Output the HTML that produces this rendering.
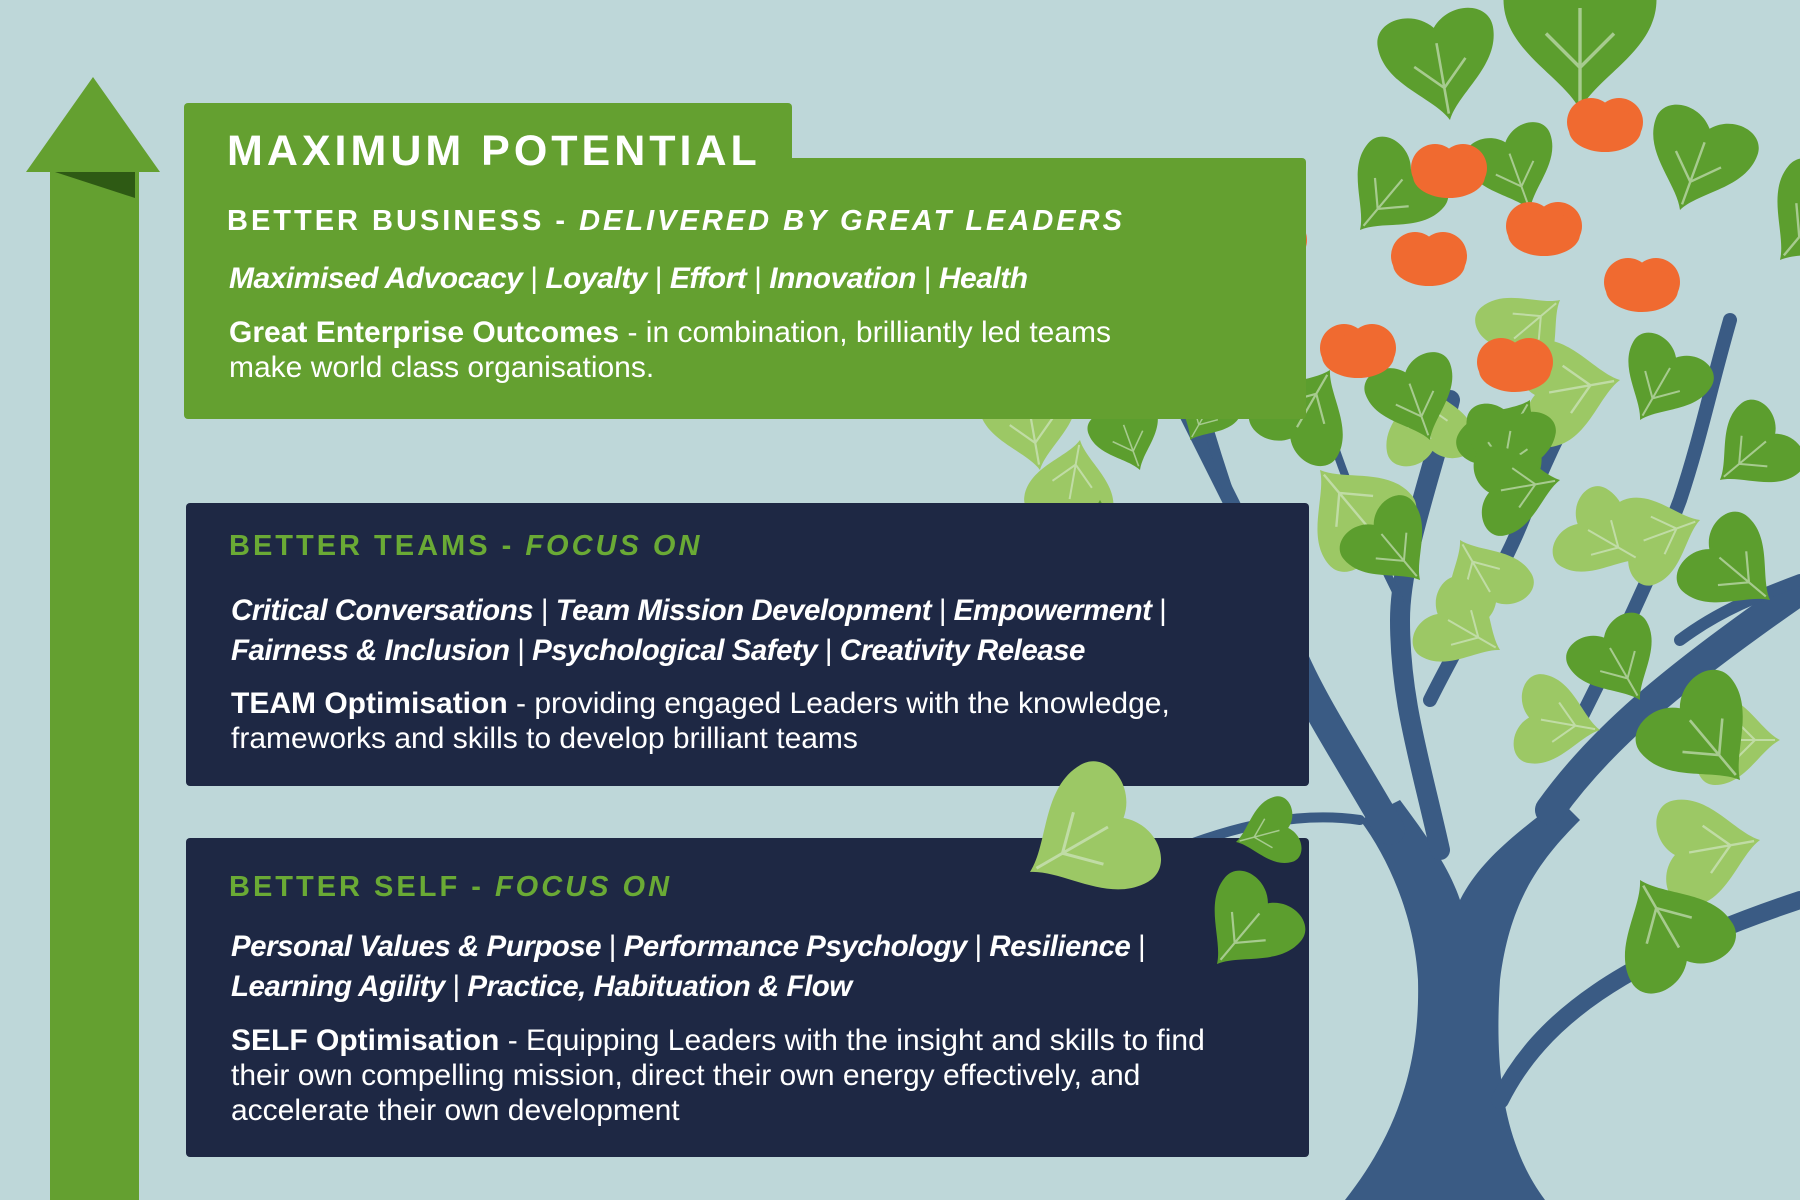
<!DOCTYPE html>
<html><head><meta charset="utf-8"><style>
body{margin:0;width:1800px;height:1200px;overflow:hidden;background:#bed7d9;font-family:"Liberation Sans",sans-serif;position:relative}
.abs{position:absolute}
.g{background:#64a030}
.n{background:#1e2844;border-radius:4px}
.t{position:absolute;color:#fff;white-space:nowrap}
.h{font-weight:bold;letter-spacing:3px}
.i{font-weight:bold;font-style:italic;letter-spacing:-0.5px}
.b{font-size:30px;line-height:35px}
.p{font-weight:normal;font-style:normal}
</style></head><body>
<svg class="abs" style="left:0;top:0" width="1800" height="1200" viewBox="0 0 1800 1200">
<defs>
<g id="lf"><path d="M0,0 C-10,-20 -45,-35 -45,-65 C-45,-85 -15,-90 0,-72 C15,-90 45,-85 45,-65 C45,-35 10,-20 0,0Z"/><path d="M0,-5 L0,-60 M0,-25 L-20,-45 M0,-25 L20,-45" stroke="#d8ead0" stroke-width="2" fill="none" opacity=".6"/></g>
<g id="ap"><circle cx="-14" cy="0" r="24"/><circle cx="14" cy="0" r="24"/><ellipse cx="0" cy="8" rx="36" ry="22"/></g>
</defs>
<rect x="50" y="170" width="89" height="1030" fill="#64a030"/>
<polygon points="93,77 26,172 160,172" fill="#64a030"/>
<polygon points="55,172 135,172 135,198" fill="#2e5a14"/>
<path d="M1345,1200 C1400,1130 1420,1060 1418,980 C1415,920 1390,860 1360,820 L1400,800 C1430,840 1450,870 1460,900 C1480,860 1520,830 1560,800 L1580,820 C1540,860 1510,900 1500,980 C1495,1060 1500,1140 1545,1200 Z" fill="#3a5b84"/>
<g fill="none" stroke="#3a5b84" stroke-linecap="round">
<path d="M1390,830 C1350,760 1310,700 1290,650 C1270,600 1250,560 1240,520" stroke-width="30"/>
<path d="M1240,520 C1220,480 1200,440 1180,400" stroke-width="16"/>
<path d="M1550,810 C1600,740 1670,680 1800,590" stroke-width="30"/>
<path d="M1440,850 C1420,760 1400,700 1400,620 C1400,560 1430,480 1450,400" stroke-width="20"/>
<path d="M1430,700 C1470,620 1510,560 1530,500 C1550,450 1570,410 1590,380" stroke-width="14"/>
<path d="M1580,720 C1620,640 1650,580 1680,500 C1700,440 1710,390 1730,320" stroke-width="14"/>
<path d="M1360,820 C1290,810 1220,830 1150,860" stroke-width="10"/>
<path d="M1290,650 C1240,620 1190,600 1140,590" stroke-width="8"/>
<path d="M1400,600 C1370,540 1340,470 1320,400" stroke-width="8"/>
<path d="M1680,640 C1720,610 1760,595 1800,580" stroke-width="12"/>
<path d="M1500,1100 C1540,1020 1620,960 1800,900" stroke-width="18"/>
<path d="M1290,650 C1250,560 1220,470 1200,400" stroke-width="10"/>
</g>
<g fill="#9cc865">
<use href="#lf" transform="translate(1260,320) rotate(-60) scale(1.2)"/>
<use href="#lf" transform="translate(1320,470) rotate(140) scale(1.2)"/>
<use href="#lf" transform="translate(1040,470) rotate(-10) scale(1.1)"/>
<use href="#lf" transform="translate(1460,540) rotate(150)"/>
<use href="#lf" transform="translate(1560,300) rotate(-130)"/>
<use href="#lf" transform="translate(1620,380) rotate(-100) scale(1.2)"/>
<use href="#lf" transform="translate(1500,650) rotate(-60)"/>
<use href="#lf" transform="translate(1700,520) rotate(-110)"/>
<use href="#lf" transform="translate(1600,730) rotate(-80)"/>
<use href="#lf" transform="translate(1760,840) rotate(-100) scale(1.2)"/>
<use href="#lf" transform="translate(1420,380) rotate(170)"/>
<use href="#lf" transform="translate(1780,740) rotate(-90)"/>
<use href="#lf" transform="translate(1640,560) rotate(-60)"/>
<use href="#lf" transform="translate(1080,440) rotate(-170) scale(1)"/>
</g>
<g fill="#5c9e2e">
<use href="#lf" transform="translate(1360,230) rotate(40) scale(1.1)"/>
<use href="#lf" transform="translate(1450,120) rotate(-10) scale(1.3)"/>
<use href="#lf" transform="translate(1580,110) rotate(0) scale(1.7)"/>
<use href="#lf" transform="translate(1530,210) rotate(-20)"/>
<use href="#lf" transform="translate(1680,210) rotate(20) scale(1.2)"/>
<use href="#lf" transform="translate(1780,260) rotate(40) scale(1.2)"/>
<use href="#lf" transform="translate(1330,370) rotate(-150) scale(1.1)"/>
<use href="#lf" transform="translate(1430,440) rotate(-20)"/>
<use href="#lf" transform="translate(1530,400) rotate(-150)"/>
<use href="#lf" transform="translate(1140,470) rotate(-20) scale(0.8)"/>
<use href="#lf" transform="translate(1190,440) rotate(30) scale(0.7)"/>
<use href="#lf" transform="translate(1420,580) rotate(-40)"/>
<use href="#lf" transform="translate(1500,490) rotate(10)"/>
<use href="#lf" transform="translate(1640,420) rotate(30)"/>
<use href="#lf" transform="translate(1720,480) rotate(50)"/>
<use href="#lf" transform="translate(1770,600) rotate(-50) scale(1.1)"/>
<use href="#lf" transform="translate(1640,700) rotate(-30)"/>
<use href="#lf" transform="translate(1740,780) rotate(-40) scale(1.3)"/>
<use href="#lf" transform="translate(1640,880) rotate(150) scale(1.3)"/>
<use href="#lf" transform="translate(1100,500) rotate(180) scale(1.2)"/>
<use href="#lf" transform="translate(1560,480) rotate(-100)"/>
</g>
<g fill="#f06a30">
<use href="#ap" transform="translate(1269,240)"/><use href="#ap" transform="translate(1449,168)"/><use href="#ap" transform="translate(1605,122)"/>
<use href="#ap" transform="translate(1429,256)"/><use href="#ap" transform="translate(1544,226)"/><use href="#ap" transform="translate(1642,282)"/>
<use href="#ap" transform="translate(1251,356)"/><use href="#ap" transform="translate(1358,348)"/><use href="#ap" transform="translate(1515,362)"/>
</g>
</svg>
<div class="abs g" style="left:184px;top:103px;width:608px;height:70px;border-radius:4px 4px 0 0"></div>
<div class="abs g" style="left:184px;top:158px;width:1122px;height:261px;border-radius:0 4px 4px 4px"></div>
<div class="abs n" style="left:186px;top:503px;width:1123px;height:283px"></div>
<div class="abs n" style="left:186px;top:838px;width:1123px;height:319px"></div>
<svg class="abs" style="left:0;top:0" width="1800" height="1200" viewBox="0 0 1800 1200">
<g fill="#9cc865"><use href="#lf" transform="translate(1030,872) rotate(60) scale(1.5)"/></g>
<g fill="#5c9e2e"><use href="#lf" transform="translate(1217,964) rotate(40) scale(1.1)"/><use href="#lf" transform="translate(1236,842) rotate(75) scale(0.75)"/></g>
</svg>

<div class="t h" style="left:227px;top:127px;font-size:43px;letter-spacing:4px">MAXIMUM POTENTIAL</div>
<div class="t h" style="left:227px;top:205px;font-size:29px">BETTER BUSINESS - <i>DELIVERED BY GREAT LEADERS</i></div>
<div class="t i" style="left:229px;top:262px;font-size:30px">Maximised Advocacy <span class="p">|</span> Loyalty <span class="p">|</span> Effort <span class="p">|</span> Innovation <span class="p">|</span> Health</div>
<div class="t b" style="left:229px;top:315px"><b>Great Enterprise Outcomes</b> - in combination, brilliantly led teams<br>make world class organisations.</div>

<div class="t h" style="left:229px;top:530px;font-size:29px;color:#6aaa35">BETTER TEAMS - <i>FOCUS ON</i></div>
<div class="t i" style="left:231px;top:591px;font-size:29.5px;line-height:40px">Critical Conversations <span class="p">|</span> Team Mission Development <span class="p">|</span> Empowerment <span class="p">|</span><br>Fairness &amp; Inclusion <span class="p">|</span> Psychological Safety <span class="p">|</span> Creativity Release</div>
<div class="t b" style="left:231px;top:686px"><b>TEAM Optimisation</b> - providing engaged Leaders with the knowledge,<br>frameworks and skills to develop brilliant teams</div>

<div class="t h" style="left:229px;top:871px;font-size:29px;color:#6aaa35">BETTER SELF - <i>FOCUS ON</i></div>
<div class="t i" style="left:231px;top:927px;font-size:29.5px;line-height:40px">Personal Values &amp; Purpose <span class="p">|</span> Performance Psychology <span class="p">|</span> Resilience <span class="p">|</span><br>Learning Agility <span class="p">|</span> Practice, Habituation &amp; Flow</div>
<div class="t b" style="left:231px;top:1023px"><b>SELF Optimisation</b> - Equipping Leaders with the insight and skills to find<br>their own compelling mission, direct their own energy effectively, and<br>accelerate their own development</div>
</body></html>
